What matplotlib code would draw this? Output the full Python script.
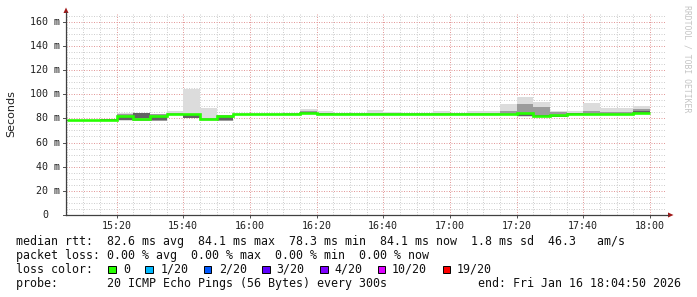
import matplotlib
matplotlib.use("Agg")
import matplotlib.pyplot as plt
import numpy as np
from matplotlib.lines import Line2D
from matplotlib.patches import Polygon, Rectangle
from matplotlib.ticker import FixedLocator, MultipleLocator

# ---------------- data ----------------
first_bin = "15:05"          # start of first 5-minute bin
step_min = 5
view_start = "15:04:50"
view_end = "18:04:50"

median_ms = [78.3, 78.3, 79.0, 81.8, 79.7, 81.8, 83.2, 83.2, 79.6, 81.8,
             83.7, 83.8, 83.8, 83.8, 84.8, 84.0, 83.9, 83.9, 83.9, 83.9,
             83.9, 83.9, 83.9, 83.9, 83.9, 83.9, 83.9, 84.3, 82.0, 83.0,
             84.0, 83.9, 83.9, 83.9, 84.5]
min_ms = [78.0, 78.0, 78.6, 77.5, 77.5, 78.0, 83.0, 80.0, 78.2, 78.0,
          83.0, 83.4, 83.4, 83.4, 83.6, 83.4, 83.4, 83.4, 83.4, 83.4,
          83.4, 83.4, 83.4, 83.4, 83.4, 83.4, 83.4, 81.5, 81.0, 80.8,
          83.4, 83.4, 83.4, 83.4, 83.4]
max_ms = [78.6, 78.6, 79.3, 84.7, 84.2, 83.6, 86.0, 104.3, 88.8, 82.6,
          84.2, 84.2, 84.2, 84.8, 87.5, 86.0, 84.6, 84.6, 86.9, 85.5,
          84.3, 84.6, 85.8, 84.5, 85.8, 85.8, 91.9, 97.9, 93.8, 86.2,
          86.2, 92.5, 88.6, 88.3, 90.2]
mid_lo_ms = [78.2, 78.2, 78.8, 78.4, 77.8, 78.2, 83.0, 80.0, 78.4, 78.2,
             83.2, 83.6, 83.6, 83.6, 83.8, 83.6, 83.6, 83.6, 83.6, 83.6,
             83.6, 83.6, 83.6, 83.6, 83.6, 83.6, 83.6, 82.0, 81.5, 81.0,
             83.6, 83.6, 83.6, 83.6, 83.8]
mid_hi_ms = [78.4, 78.4, 79.1, 83.6, 84.2, 83.4, 84.2, 84.0, 80.5, 82.6,
             84.0, 84.0, 84.0, 84.2, 86.0, 84.6, 84.2, 84.2, 84.8, 84.4,
             84.1, 84.2, 84.6, 84.2, 84.6, 84.6, 86.0, 92.0, 89.0, 85.0,
             84.6, 86.0, 85.2, 85.0, 88.0]
core_lo_ms = [78.2, 78.2, 78.8, 78.6, 80.5, 78.4, 83.0, 80.3, 79.0, 78.4,
              83.4, 83.7, 83.7, 83.7, 84.6, 83.8, 83.7, 83.7, 83.7, 83.7,
              83.7, 83.7, 83.7, 83.7, 83.7, 83.7, 83.7, 81.8, 81.5, 80.8,
              83.8, 83.7, 83.7, 83.7, 84.0]
core_hi_ms = [78.4, 78.4, 79.1, 81.0, 84.2, 81.5, 83.6, 82.6, 79.8, 81.5,
              83.9, 83.9, 83.9, 83.9, 85.0, 84.1, 84.0, 84.0, 84.0, 84.0,
              84.0, 84.0, 84.0, 84.0, 84.0, 84.0, 84.0, 83.8, 83.0, 82.5,
              84.1, 84.0, 84.0, 84.0, 86.0]

x_tick_labels = ["15:20", "15:40", "16:00", "16:20", "16:40",
                 "17:00", "17:20", "17:40", "18:00"]
y_tick_values = [0, 20, 40, 60, 80, 100, 120, 140, 160]
y_tick_labels = ["0", "20 m", "40 m", "60 m", "80 m", "100 m",
                 "120 m", "140 m", "160 m"]
y_max = 167

loss_labels = ["0", "1/20", "2/20", "3/20", "4/20", "10/20", "19/20"]
loss_colors = ["#26ff00", "#00b8ff", "#0059ff", "#5e00ff", "#7e00ff",
               "#dd00ff", "#ff0000"]

line_rtt = ("median rtt:  82.6 ms avg  84.1 ms max  78.3 ms min  "
            "84.1 ms now  1.8 ms sd  46.3   am/s")
line_loss = "packet loss: 0.00 % avg  0.00 % max  0.00 % min  0.00 % now"
line_color = "loss color:"
line_probe = "probe:       20 ICMP Echo Pings (56 Bytes) every 300s"
line_end = "end: Fri Jan 16 18:04:50 2026"
y_label = "Seconds"
watermark = "RRDTOOL / TOBI OETIKER"

# ---------------- helpers ----------------
def to_min(s):
    parts = [float(p) for p in s.split(":")]
    m = parts[0] * 60 + parts[1]
    if len(parts) > 2:
        m += parts[2] / 60.0
    return m

W, H, DPI = 697, 297, 100

def fx(x):
    return x / W

def fy(y):
    return 1 - y / H

MONO = "DejaVu Sans Mono"

fig = plt.figure(figsize=(W / DPI, H / DPI), dpi=DPI, facecolor="white")

ax_left, ax_right, ax_bottom = 66, 666, 215
ax_top = ax_bottom - y_max * 1.208
ax = fig.add_axes([fx(ax_left), fy(ax_bottom), (ax_right - ax_left) / W,
                   (ax_bottom - ax_top) / H])
ax.set_facecolor("white")

n = len(median_ms)
edges = to_min(first_bin) + step_min * np.arange(n + 1)

ax.set_xlim(to_min(view_start), to_min(view_end))
ax.set_ylim(0, y_max)

# grid
major_x = [to_min(t) for t in x_tick_labels]
ax.xaxis.set_major_locator(FixedLocator(major_x))
ax.xaxis.set_minor_locator(MultipleLocator(5))
ax.yaxis.set_major_locator(FixedLocator(y_tick_values))
ax.yaxis.set_minor_locator(MultipleLocator(5))
ax.set_axisbelow(True)
ax.grid(which="minor", color="#cfcfcf", linewidth=0.72, dashes=(1, 1.5))
ax.grid(which="major", color="#e39a9a", linewidth=0.72, dashes=(1, 1.5))

# smoke
ax.stairs(max_ms, edges, baseline=min_ms, fill=True, color="#dcdcdc",
          linewidth=0)
ax.stairs(mid_hi_ms, edges, baseline=mid_lo_ms, fill=True, color="#9c9c9c",
          linewidth=0)
ax.stairs(core_hi_ms, edges, baseline=core_lo_ms, fill=True, color="#626262",
          linewidth=0)
# median line
ax.stairs(median_ms, edges, baseline=None, color=loss_colors[0],
          linewidth=1.9)

for s in ax.spines.values():
    s.set_visible(False)

ax.set_xticks(major_x)
ax.set_xticklabels(x_tick_labels, fontfamily=MONO, fontsize=7.2,
                   color="#202020")
ax.tick_params(axis="x", which="major", length=2.5, width=0.7,
               color="#505050", pad=2, direction="out")
ax.tick_params(axis="x", which="minor", length=0)
ax.tick_params(axis="y", which="both", length=0, labelleft=False)

for v, lab in zip(y_tick_values, y_tick_labels):
    off = -6 if lab.endswith("m") else -18
    ax.annotate(lab, xy=(0, v), xycoords=("axes fraction", "data"),
                xytext=(off, 0), textcoords="offset pixels",
                ha="right", va="center", fontfamily=MONO, fontsize=7.2,
                color="#202020", annotation_clip=False)

# axes lines with arrows
axis_col = "#404040"
arrow_col = "#a01818"
fig.add_artist(Line2D([fx(ax_left), fx(668)], [fy(ax_bottom), fy(ax_bottom)],
                      color=axis_col, linewidth=0.9))
fig.add_artist(Line2D([fx(ax_left), fx(ax_left)], [fy(ax_bottom), fy(12)],
                      color=axis_col, linewidth=0.9))
fig.add_artist(Polygon([[fx(668), fy(212.5)], [fx(673.5), fy(215)],
                        [fx(668), fy(217.5)]], closed=True,
                       color=arrow_col, linewidth=0))
fig.add_artist(Polygon([[fx(63.5), fy(13)], [fx(66), fy(7.5)],
                        [fx(68.5), fy(13)]], closed=True,
                       color=arrow_col, linewidth=0))
# small y ticks
for v in y_tick_values:
    ax.plot([-0.005, 0], [v, v], transform=ax.get_yaxis_transform(),
            color="#505050", linewidth=0.7, clip_on=False)

fig.text(fx(11), fy(114), y_label, rotation=90, ha="center", va="center",
         fontfamily="DejaVu Sans", fontsize=8, color="#202020")

fig.text(fx(687), fy(5), watermark, rotation=-90, ha="center", va="top",
         fontfamily=MONO, fontsize=5.9, color="#c4c4c4")

# legend text
tk = dict(fontfamily=MONO, fontsize=8.4, color="#101010", va="center",
          ha="left")
fig.text(fx(16), fy(242), line_rtt, **tk)
fig.text(fx(16), fy(256), line_loss, **tk)
fig.text(fx(16), fy(269.5), line_color, **tk)
fig.text(fx(16), fy(283.7), line_probe, **tk)
fig.text(fx(681), fy(283.7), line_end, fontfamily=MONO, fontsize=8.4,
         color="#101010", va="center", ha="right")

box_x = [108.3, 145.3, 203.6, 262.2, 320.0, 377.8, 442.7]
lab_x = [123.1, 160.4, 218.7, 276.4, 334.2, 392.0, 456.9]
for bx, lx, lab, col in zip(box_x, lab_x, loss_labels, loss_colors):
    fig.add_artist(Rectangle((fx(bx), fy(273.3)), 7.5 / W, 7.5 / H,
                             facecolor=col, edgecolor="black",
                             linewidth=0.7))
    fig.text(fx(lx), fy(269.5), lab, **tk)

fig.savefig("out.png", dpi=DPI, facecolor="white")
